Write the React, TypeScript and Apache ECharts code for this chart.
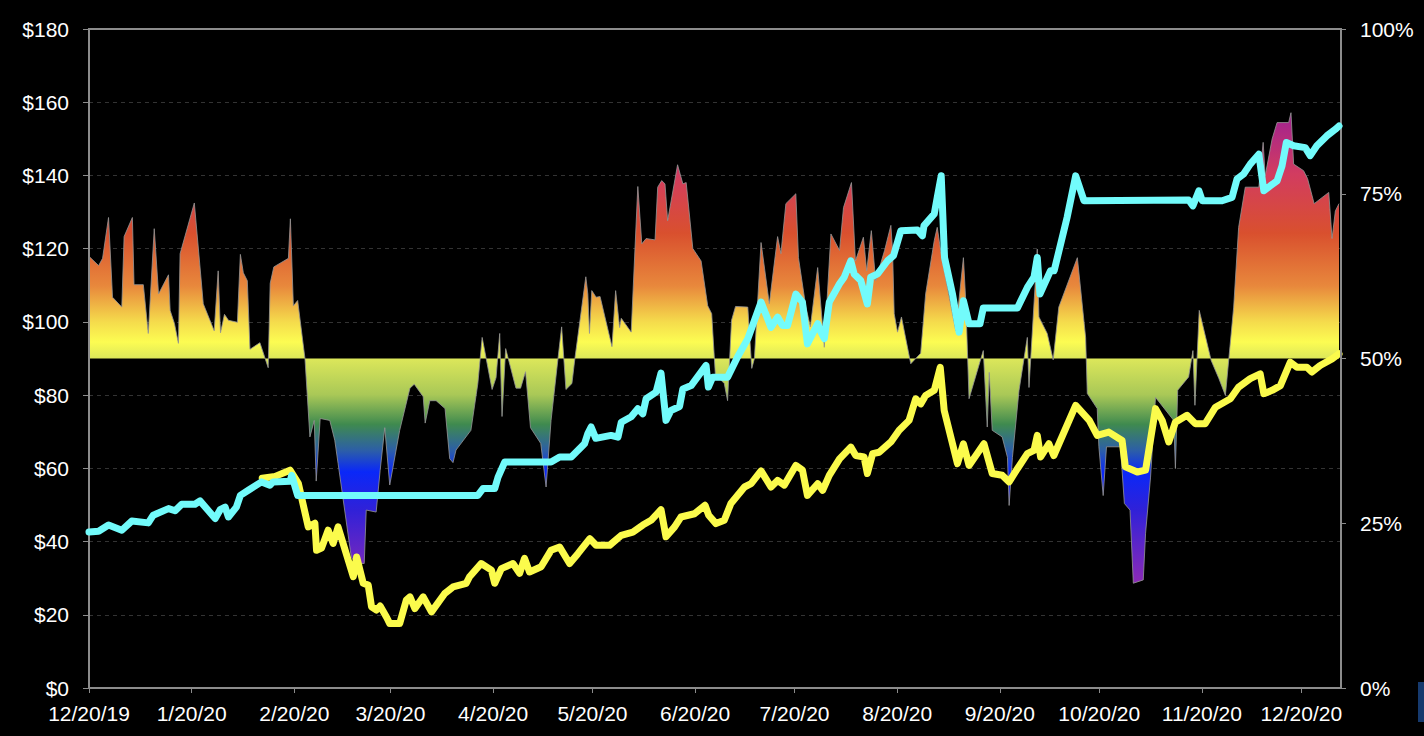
import React, { useEffect, useRef } from "react";
import * as echarts from "echarts";

// x values are days since 12/20/19
const START = new Date(2019, 11, 20);
const X_MAX = 378;

const dateTicks = [
  "12/20/19", "1/20/20", "2/20/20", "3/20/20", "4/20/20", "5/20/20", "6/20/20",
  "7/20/20", "8/20/20", "9/20/20", "10/20/20", "11/20/20", "12/20/20",
];

// cyan line ($, left axis)
const cyanLine: number[][] = [
  [0, 42.6], [2.9, 42.8], [5.9, 44.5], [9.9, 43.1], [12.9, 45.6], [17.9, 45.1], [19.4, 47.2],
  [24.0, 49.0], [26.0, 48.4], [28.0, 50.2], [32.0, 50.2], [33.5, 51.1], [38.1, 46.3], [39.6, 48.7],
  [41.1, 49.4], [42.1, 46.7], [44.5, 49.4], [45.7, 52.6], [48.1, 54.0], [52.1, 56.3], [54.6, 55.4],
  [55.6, 56.3], [60.7, 56.5], [61.2, 58.1], [63.0, 52.6], [117.4, 52.6], [119.0, 54.5], [122.5, 54.5],
  [123.5, 57.6], [125.5, 61.7], [139.5, 61.7], [142.1, 63.1], [145.6, 63.1], [149.6, 66.7],
  [150.6, 69.5], [151.6, 71.3], [153.0, 68.2], [157.6, 69.0], [159.7, 68.5], [160.7, 72.6],
  [163.7, 74.1], [165.7, 76.3], [167.2, 74.9], [168.2, 79.0], [171.2, 80.8], [172.7, 86.0],
  [174.2, 73.1], [175.7, 75.8], [178.3, 76.9], [179.3, 81.7], [181.8, 82.6], [186.3, 88.1],
  [187.0, 82.2], [188.3, 84.9], [192.8, 84.9], [195.8, 90.4], [198.9, 95.4], [202.9, 105.4],
  [205.9, 98.5], [207.9, 101.3], [209.4, 99.0], [210.9, 99.0], [213.4, 107.6], [215.4, 105.4],
  [216.9, 94.0], [220.0, 99.5], [221.0, 97.2], [222.0, 95.4], [223.5, 105.4], [226.6, 110.4],
  [228.0, 112.2], [230.0, 116.7], [231.0, 113.1], [233.0, 111.3], [235.0, 104.9], [236.0, 112.2],
  [238.1, 113.1], [241.1, 116.7], [242.9, 118.1], [245.1, 124.9], [250.1, 125.1], [251.6, 123.5],
  [252.1, 126.3], [255.2, 129.5], [256.1, 134.0], [257.3, 139.9], [258.3, 117.6], [260.7, 107.6],
  [262.7, 97.2], [264.0, 105.8], [265.7, 99.5], [269.0, 99.5], [270.0, 103.8], [280.3, 103.8],
  [283.3, 109.4], [285.3, 112.2], [286.3, 117.6], [287.1, 107.6], [290.3, 114.0], [291.4, 114.0],
  [295.3, 128.5], [297.9, 139.9], [300.4, 133.1], [332.0, 133.3], [333.3, 131.7], [335.1, 135.8],
  [336.1, 133.1], [342.1, 133.1], [345.1, 134.0], [346.6, 139.0], [348.6, 140.4], [350.6, 143.1],
  [353.2, 145.8], [354.7, 135.8], [356.7, 137.2], [358.7, 138.5], [360.2, 142.6], [361.5, 149.0],
  [363.7, 148.1], [367.2, 147.6], [368.7, 145.4], [370.7, 148.1], [373.7, 150.8], [376.3, 152.6],
  [377.4, 153.5],
];

// yellow line ($, left axis)
const yellowLine: number[][] = [
  [52.3, 57.3], [56.2, 57.8], [60.7, 59.5], [63.2, 55.9], [66.2, 44.0], [68.2, 45.0], [68.7, 37.6],
  [70.2, 38.2], [72.2, 43.1], [73.7, 39.5], [75.2, 44.0], [79.8, 30.4], [80.8, 35.8], [82.8, 28.6],
  [84.3, 28.1], [85.3, 22.2], [86.8, 21.3], [87.9, 22.4], [89.8, 19.4], [90.8, 17.6], [93.8, 17.6],
  [95.8, 24.0], [96.9, 24.9], [98.4, 21.7], [100.9, 24.9], [103.4, 20.8], [107.4, 25.8],
  [109.9, 27.6], [113.9, 28.6], [114.9, 30.4], [118.4, 34.0], [121.5, 32.2], [122.5, 28.6],
  [124.5, 32.6], [128.0, 34.0], [130.0, 31.3], [131.5, 35.4], [133.0, 31.7], [136.5, 33.1],
  [139.5, 37.6], [142.1, 38.5], [145.1, 34.0], [147.6, 36.7], [151.2, 40.8], [153.1, 39.0],
  [157.2, 39.0], [160.7, 41.7], [164.2, 42.6], [167.2, 44.5], [169.7, 45.8], [172.7, 48.7],
  [174.2, 41.3], [176.8, 44.0], [178.7, 46.7], [182.8, 47.6], [186.0, 49.9], [187.1, 47.2],
  [189.3, 44.9], [191.8, 45.8], [193.8, 50.4], [197.9, 54.9], [199.9, 55.8], [202.9, 59.3],
  [205.9, 54.9], [207.9, 56.7], [209.9, 55.4], [213.4, 60.8], [215.4, 59.5], [216.9, 52.6],
  [220.0, 55.8], [221.5, 54.0], [223.5, 58.1], [226.6, 62.6], [230.0, 65.8], [231.5, 63.5],
  [234.0, 63.1], [235.0, 58.6], [236.6, 64.0], [238.6, 64.4], [242.1, 67.2], [244.6, 70.4],
  [247.6, 73.1], [249.6, 79.0], [251.1, 77.6], [252.6, 79.9], [255.2, 81.3], [257.0, 87.6],
  [258.2, 75.8], [262.2, 61.3], [264.0, 66.7], [265.7, 60.8], [270.2, 66.7], [272.7, 58.6],
  [275.7, 58.1], [277.8, 56.3], [280.3, 59.9], [283.3, 64.0], [285.3, 64.9], [286.3, 69.0],
  [287.3, 63.1], [289.8, 66.7], [291.3, 63.5], [297.9, 77.2], [302.0, 73.1], [304.4, 69.0],
  [307.9, 69.9], [311.9, 67.6], [312.9, 60.4], [316.5, 59.0], [319.0, 59.5], [322.0, 76.3],
  [324.0, 73.1], [326.0, 67.2], [328.0, 72.6], [331.5, 74.5], [334.0, 72.2], [337.0, 72.2],
  [340.1, 76.7], [344.6, 79.0], [347.1, 82.2], [350.6, 84.5], [353.6, 85.8], [354.7, 80.4],
  [357.2, 81.3], [359.7, 82.6], [362.7, 89.0], [364.7, 87.6], [367.7, 87.6], [369.2, 86.3],
  [371.7, 88.1], [375.3, 89.9], [377.4, 91.3],
];

// oscillator (%, right axis), filled against 50%
const oscillator: number[][] = [
  [0, 65.5], [2.9, 64.1], [4.1, 65.2], [5.9, 71.4], [7.1, 59.3], [9.9, 57.8], [10.6, 68.5],
  [13.1, 71.4], [13.6, 61.2], [16.4, 61.2], [17.9, 53.8], [19.7, 69.7], [21.0, 59.8], [24.0, 62.7],
  [24.5, 57.3], [25.8, 55.3], [27.0, 52.3], [27.5, 65.9], [31.8, 73.6], [34.5, 58.3], [37.8, 54.2],
  [39.0, 63.3], [39.7, 53.9], [40.9, 56.7], [42.1, 55.8], [44.8, 55.5], [45.7, 65.8], [46.6, 63.0],
  [47.8, 61.8], [48.6, 51.4], [51.6, 52.4], [54.1, 48.6], [54.7, 61.4], [55.8, 63.9], [60.2, 65.2],
  [60.8, 71.2], [61.7, 58.0], [63.0, 58.8], [65.2, 50.0], [66.7, 38.1], [68.0, 40.6], [68.6, 31.4],
  [69.8, 40.9], [72.7, 40.6], [74.2, 37.6], [75.2, 34.1], [79.2, 19.8], [80.7, 18.9], [83.1, 18.9],
  [83.7, 27.0], [86.7, 26.7], [87.9, 33.0], [89.3, 39.5], [90.8, 30.8], [93.8, 39.1], [96.9, 45.5],
  [98.2, 46.1], [100.9, 44.2], [101.5, 40.2], [102.9, 43.6], [104.8, 43.6], [107.5, 42.4],
  [108.9, 34.8], [109.9, 34.2], [110.8, 36.1], [115.3, 39.1], [117.4, 46.2], [118.7, 53.2],
  [121.7, 45.3], [122.9, 47.1], [124.0, 53.8], [124.7, 41.2], [125.8, 51.5], [128.9, 45.5],
  [130.3, 45.5], [131.8, 48.0], [133.3, 39.5], [136.4, 37.1], [138.0, 30.5], [139.5, 40.6],
  [141.6, 50.0], [142.7, 54.8], [144.0, 45.3], [145.8, 46.2], [146.7, 50.0], [150.0, 62.4],
  [150.6, 59.8], [151.1, 53.8], [151.8, 60.3], [153.1, 59.3], [154.3, 59.4], [157.9, 51.8],
  [159.0, 60.3], [160.2, 54.7], [160.7, 56.1], [163.7, 54.0], [165.7, 76.1], [166.9, 67.4],
  [168.2, 68.2], [170.9, 68.0], [171.7, 76.0], [172.9, 77.0], [173.9, 76.5], [174.7, 70.9],
  [177.7, 79.4], [179.3, 76.5], [180.3, 76.7], [182.3, 66.7], [184.8, 64.8], [186.8, 58.0],
  [188.0, 56.8], [189.1, 47.6], [191.8, 46.2], [192.8, 43.6], [194.0, 55.8], [195.2, 57.9],
  [198.9, 57.8], [200.1, 48.5], [200.9, 50.0], [202.9, 67.6], [205.4, 58.3], [207.9, 68.5],
  [208.9, 65.9], [210.4, 73.5], [213.4, 75.0], [214.2, 65.3], [216.4, 57.9], [217.8, 54.8],
  [220.0, 63.8], [222.0, 51.7], [224.0, 68.9], [226.6, 66.4], [227.8, 72.9], [230.2, 76.7],
  [231.4, 64.8], [233.8, 68.4], [234.8, 63.3], [236.2, 69.4], [237.5, 61.8], [240.2, 66.4],
  [242.1, 70.2], [242.6, 66.4], [243.1, 56.8], [244.1, 54.0], [245.3, 56.3], [248.1, 49.2],
  [251.1, 50.8], [252.6, 59.8], [255.2, 67.9], [256.1, 69.9], [257.6, 64.8], [261.7, 54.2],
  [264.0, 65.3], [264.7, 58.8], [265.7, 43.9], [270.0, 51.2], [271.2, 39.6], [271.8, 47.9],
  [272.7, 39.1], [275.7, 38.1], [277.3, 35.0], [277.8, 27.7], [278.8, 35.0], [280.8, 45.2],
  [283.3, 53.2], [283.8, 45.6], [286.3, 66.6], [286.8, 56.3], [289.3, 53.8], [291.1, 49.8],
  [292.8, 57.8], [298.4, 65.3], [300.9, 53.2], [301.4, 44.7], [304.4, 42.4], [304.9, 36.6],
  [306.2, 29.2], [307.2, 36.6], [311.4, 36.6], [312.6, 28.0], [314.3, 27.0], [315.3, 15.9],
  [318.3, 16.4], [319.0, 23.5], [320.5, 32.0], [322.0, 44.1], [327.5, 40.6], [328.0, 33.3],
  [328.7, 45.2], [332.0, 47.2], [333.3, 51.2], [333.9, 42.9], [335.2, 57.3], [338.8, 49.7],
  [341.1, 47.0], [343.1, 44.4], [345.6, 57.8], [347.1, 69.9], [349.1, 76.0], [353.2, 76.0],
  [354.5, 82.8], [355.1, 77.7], [357.2, 83.3], [358.7, 85.8], [362.2, 85.8], [362.9, 87.3],
  [363.7, 79.5], [366.7, 78.5], [367.9, 77.3], [369.9, 73.5], [374.3, 75.2], [375.3, 68.2],
  [376.3, 72.4], [377.4, 73.5],
];

function dayOf(label: string): number {
  const [m, d, y] = label.split("/").map(Number);
  const dt = new Date(2000 + y, m - 1, d);
  return Math.round((dt.getTime() - START.getTime()) / 86400000);
}

const tickDays = dateTicks.map(dayOf);

const GRID_TOP = 29;
const GRID_BOTTOM_Y = 688;
const FONT = "'Liberation Sans', Arial, Helvetica, sans-serif";

export default function App() {
  const ref = useRef<HTMLDivElement>(null);

  useEffect(() => {
    document.body.style.margin = "0";
    document.body.style.background = "#000";
    if (!ref.current) return;
    const chart = echarts.init(ref.current, null, { renderer: "svg" });

    const fill = new echarts.graphic.LinearGradient(
      0, GRID_TOP, 0, GRID_BOTTOM_Y,
      [
        { offset: 0.12, color: "#9c1f96" },
        { offset: 0.22, color: "#d23c60" },
        { offset: 0.31, color: "#d9502e" },
        { offset: 0.39, color: "#e8883c" },
        { offset: 0.445, color: "#f5dc4c" },
        { offset: 0.475, color: "#fcfc52" },
        { offset: 0.5, color: "#dce75a" },
        { offset: 0.555, color: "#a9c857" },
        { offset: 0.6, color: "#3f8a4f" },
        { offset: 0.64, color: "#2c5ea8" },
        { offset: 0.672, color: "#0a28f8" },
        { offset: 0.73, color: "#3021d8" },
        { offset: 0.84, color: "#8c2ab6" },
      ],
      true
    );

    const labelStyle = { color: "#ffffff", fontSize: 21, fontFamily: FONT };

    chart.setOption({
      animation: false,
      backgroundColor: "#000000",
      textStyle: { fontFamily: FONT },
      grid: {
        left: 89,
        right: 83,
        top: GRID_TOP,
        bottom: 736 - GRID_BOTTOM_Y,
        show: true,
        borderColor: "#8c8c8c",
        borderWidth: 2,
        backgroundColor: "transparent",
        z: 3,
      },
      xAxis: {
        type: "value",
        min: 0,
        max: X_MAX,
        axisLine: { show: true, onZero: false, lineStyle: { color: "#8c8c8c", width: 2 } },
        axisTick: { show: true, length: 5, customValues: tickDays, lineStyle: { color: "#8c8c8c", width: 1 } },
        axisLabel: {
          ...labelStyle,
          margin: 15,
          customValues: tickDays,
          formatter: (v: number) => {
            const i = tickDays.indexOf(Math.round(v));
            return i >= 0 ? dateTicks[i] : "";
          },
        },
        splitLine: { show: false },
      },
      yAxis: [
        {
          type: "value",
          min: 0,
          max: 180,
          interval: 20,
          position: "left",
          axisLine: { show: true, lineStyle: { color: "#8c8c8c", width: 2 } },
          axisTick: { show: true, length: 6, lineStyle: { color: "#8c8c8c" } },
          axisLabel: { ...labelStyle, margin: 20, formatter: (v: number) => "$" + v },
          splitLine: {
            show: true,
            showMinLine: false,
            showMaxLine: false,
            lineStyle: { color: "#333333", type: [4, 4], width: 1 },
          },
        },
        {
          type: "value",
          min: 0,
          max: 100,
          interval: 25,
          position: "right",
          axisLine: { show: true, lineStyle: { color: "#8c8c8c", width: 2 } },
          axisTick: { show: true, length: 5, lineStyle: { color: "#8c8c8c" } },
          axisLabel: { ...labelStyle, margin: 19, formatter: (v: number) => v + "%" },
          splitLine: { show: false },
        },
      ],
      graphic: [
        {
          type: "rect",
          shape: { x: 1418, y: 682, width: 6, height: 40 },
          style: { fill: "#163a6e" },
          silent: true,
        },
        {
          type: "line",
          shape: { x1: 89, y1: GRID_TOP, x2: 1341, y2: GRID_TOP },
          style: { stroke: "#8c8c8c", lineWidth: 2 },
          silent: true,
          z: 10,
        },
      ],
      series: [
        {
          name: "Oscillator",
          type: "line",
          yAxisIndex: 1,
          data: oscillator,
          symbol: "none",
          lineStyle: { color: "rgba(150,150,150,0.8)", width: 1 },
          areaStyle: { origin: 50, color: fill, opacity: 1 },
          z: 1,
        },
        {
          name: "Yellow",
          type: "line",
          yAxisIndex: 0,
          data: yellowLine,
          symbol: "none",
          lineStyle: { color: "#fbfb4c", width: 7, cap: "round", join: "round" },
          z: 2,
        },
        {
          name: "Cyan",
          type: "line",
          yAxisIndex: 0,
          data: cyanLine,
          symbol: "none",
          lineStyle: { color: "#72fbfb", width: 7, cap: "round", join: "round" },
          z: 3,
        },
      ],
    });

    return () => chart.dispose();
  }, []);

  return <div ref={ref} style={{ width: 1424, height: 736 }} />;
}
